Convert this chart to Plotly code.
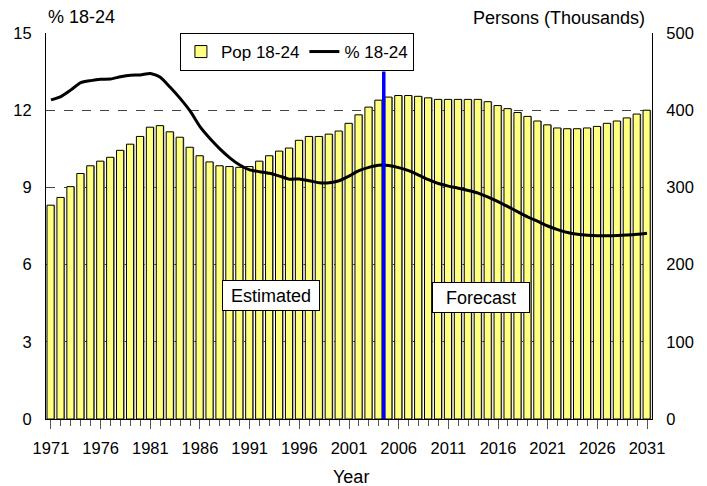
import plotly.graph_objects as go

years = list(range(1971, 2032))
pop_18_24 = [277, 287, 301, 318, 328, 334, 339, 348, 356, 366,
             378, 380, 372, 365, 352, 341, 333, 328, 327, 326,
             327, 334, 341, 347, 351, 361, 366, 366, 369, 373,
             383, 394, 404, 413, 417, 419, 419, 418, 416, 414,
             414, 414, 414, 414, 411, 406, 402, 397, 392, 386,
             381, 377, 376, 376, 377, 379, 383, 386, 390, 395, 400]
pct_18_24 = [12.40, 12.53, 12.79, 13.07, 13.15, 13.20, 13.21, 13.30, 13.36, 13.37,
             13.43, 13.28, 12.89, 12.46, 11.97, 11.36, 10.90, 10.50, 10.15, 9.87,
             9.68, 9.61, 9.55, 9.44, 9.32, 9.33, 9.26, 9.18, 9.18, 9.26,
             9.44, 9.65, 9.78, 9.86, 9.85, 9.77, 9.65, 9.48, 9.30, 9.15,
             9.05, 8.97, 8.88, 8.78, 8.62, 8.45, 8.25, 8.05, 7.85, 7.68,
             7.50, 7.36, 7.25, 7.18, 7.14, 7.12, 7.12, 7.13, 7.15, 7.18, 7.22]
tick_years = list(range(1971, 2032, 5))
forecast_split = [2004.5, 2004.5]
forecast_line = [0, 13.5]

FONT = "Liberation Sans, Arial, sans-serif"

fig = go.Figure()
# shadow of bars
fig.add_trace(go.Bar(x=years, y=pop_18_24, width=0.72, offset=-0.30,
                     marker=dict(color="#8c8c8c", line=dict(width=0)),
                     showlegend=False, hoverinfo="skip", yaxis="y"))
fig.add_trace(go.Bar(x=years, y=pop_18_24, width=0.72, offset=-0.40,
                     name="Pop 18-24",
                     marker=dict(color="#FFFF80", line=dict(color="black", width=1)),
                     yaxis="y"))
fig.add_trace(go.Scatter(x=years, y=pct_18_24, mode="lines", name="% 18-24",
                         line=dict(color="black", width=3, shape="spline", smoothing=0.6),
                         yaxis="y2"))
fig.add_trace(go.Scatter(x=forecast_split, y=forecast_line, mode="lines",
                         line=dict(color="#0000FF", width=3.5),
                         showlegend=False, yaxis="y2"))

# page body has an 8px margin: figure is shifted so the plot lands where the reference has it
fig.update_layout(
    template="none",
    width=699, height=478,
    margin=dict(l=38, r=55, t=25, b=67, autoexpand=False),
    paper_bgcolor="white", plot_bgcolor="white",
    font=dict(family=FONT, size=16, color="black"),
    barmode="overlay",
    showlegend=True,
    legend=dict(orientation="h", x=0.221, y=1.0, xanchor="left", yanchor="top",
                bgcolor="white", bordercolor="black", borderwidth=1,
                font=dict(size=17), itemwidth=30, tracegroupgap=0,
                traceorder="normal"),
    xaxis=dict(range=[1970.5, 2031.5], tickmode="array", tickvals=tick_years,
               ticktext=[str(y) for y in tick_years],
               ticks="outside", ticklen=9, tickcolor="#555555", tickwidth=1,
               minor=dict(ticks="outside", dtick=1, tick0=1971, ticklen=6,
                          tickcolor="#555555", showgrid=False),
               showline=True, linecolor="black", linewidth=1,
               showgrid=False, zeroline=False, automargin=False,
               ticklabelstandoff=5, tickfont=dict(size=16.5)),
    yaxis=dict(range=[0, 500], side="right", tickmode="linear", tick0=0, dtick=100,
               showgrid=True, gridcolor="#444444", griddash="dash", gridwidth=1,
               showline=True, linecolor="black", linewidth=1, ticks="",
               zeroline=False, ticklabelstandoff=10, automargin=False,
               tickfont=dict(size=16.5)),
    yaxis2=dict(range=[0, 15], side="left", overlaying="y", tickmode="linear",
                tick0=0, dtick=3, showgrid=False, showline=True, linecolor="black",
                linewidth=1, ticks="", zeroline=False, ticklabelstandoff=10,
                automargin=False, tickfont=dict(size=16.5)),
    annotations=[
        dict(text="% 18-24", xref="paper", yref="paper", x=0.0, y=1.0415,
             xanchor="left", yanchor="middle", showarrow=False,
             font=dict(size=18)),
        dict(text="Persons (Thousands)", xref="paper", yref="paper", x=0.9917, y=1.040,
             xanchor="right", yanchor="middle", showarrow=False,
             font=dict(size=18)),
        dict(text="Year", xref="paper", yref="paper", x=0.503, y=-0.150,
             xanchor="center", yanchor="middle", showarrow=False,
             font=dict(size=18)),
        dict(text="Estimated", xref="x", yref="y2", x=1993.13, y=4.81,
             showarrow=False, bgcolor="white", bordercolor="black", borderwidth=1,
             borderpad=4, width=88, height=21, font=dict(size=18)),
        dict(text="Forecast", xref="x", yref="y2", x=2014.27, y=4.73,
             showarrow=False, bgcolor="white", bordercolor="black", borderwidth=1,
             borderpad=4, width=88, height=21, font=dict(size=18)),
    ],
)

fig.write_html("out.html")
